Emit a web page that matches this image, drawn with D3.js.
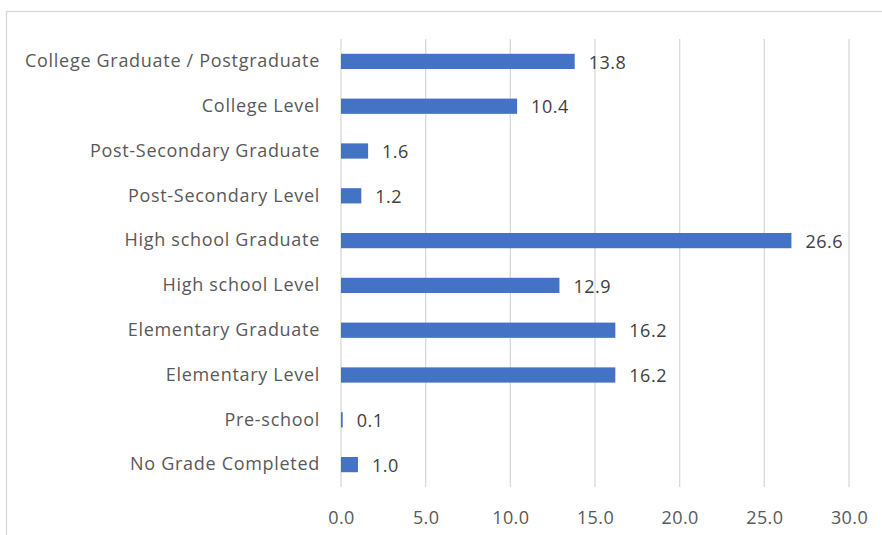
<!DOCTYPE html>
<html><head><meta charset="utf-8">
<script src="https://cdn.jsdelivr.net/npm/d3@7"></script>
<style>body{margin:0;background:#fff;} svg{display:block;}</style>
</head><body>
<svg id="c" width="882" height="535"></svg>
<script>
const categories = ["College Graduate / Postgraduate","College Level","Post-Secondary Graduate","Post-Secondary Level","High school Graduate","High school Level","Elementary Graduate","Elementary Level","Pre-school","No Grade Completed"];
const values = [13.8,10.4,1.6,1.2,26.6,12.9,16.2,16.2,0.1,1.0];
const tickValues = [0,5,10,15,20,25,30];

const svg = d3.select("#c");
const font = "'Open Sans', sans-serif";
svg.append("rect").attr("x",6.5).attr("y",11.5).attr("width",900).attr("height",600)
  .attr("fill","#fff").attr("stroke","#d9d9d9").attr("stroke-width",1.3);

const x = d3.scaleLinear().domain([0,30]).range([341,849]);
const y = d3.scaleBand().domain(categories).range([39,487]).paddingInner(0.66).paddingOuter(0.33);

// gridlines
svg.append("g").selectAll("line").data(tickValues).join("line")
  .attr("x1",d=>x(d)).attr("x2",d=>x(d)).attr("y1",39).attr("y2",487)
  .attr("stroke","#d9d9d9").attr("stroke-width",1.3);

// x axis labels
const xAxis = d3.axisBottom(x).tickValues(tickValues).tickFormat(d3.format(".1f")).tickSize(0).tickPadding(0);
const gx = svg.append("g").attr("transform","translate(0,518)").call(xAxis);
gx.select(".domain").remove();
gx.selectAll("text").attr("font-family",font).attr("font-size",18).attr("letter-spacing","0.4px").attr("fill","#595959").attr("dy","0.35em");

// y axis labels
const yAxis = d3.axisLeft(y).tickSize(0).tickPadding(21);
const gy = svg.append("g").attr("transform","translate(341,0)").call(yAxis);
gy.select(".domain").remove();
gy.selectAll("text").attr("font-family",font).attr("font-size",18).attr("letter-spacing","0.7px").attr("fill","#595959").attr("dy","0.32em");

// bars
svg.append("g").selectAll("rect").data(values).join("rect")
  .attr("x",x(0)).attr("y",(d,i)=>y(categories[i]))
  .attr("width",d=>x(d)-x(0)).attr("height",y.bandwidth())
  .attr("fill","#4472C4");

// value labels
svg.append("g").selectAll("text").data(values).join("text")
  .attr("x",d=>x(d)+14).attr("y",(d,i)=>y(categories[i])+y.bandwidth()/2)
  .attr("dy","0.4em").attr("font-family",font).attr("font-size",18).attr("letter-spacing","0.5px").attr("fill","#404040")
  .text(d=>d3.format(".1f")(d));
</script>
</body></html>
